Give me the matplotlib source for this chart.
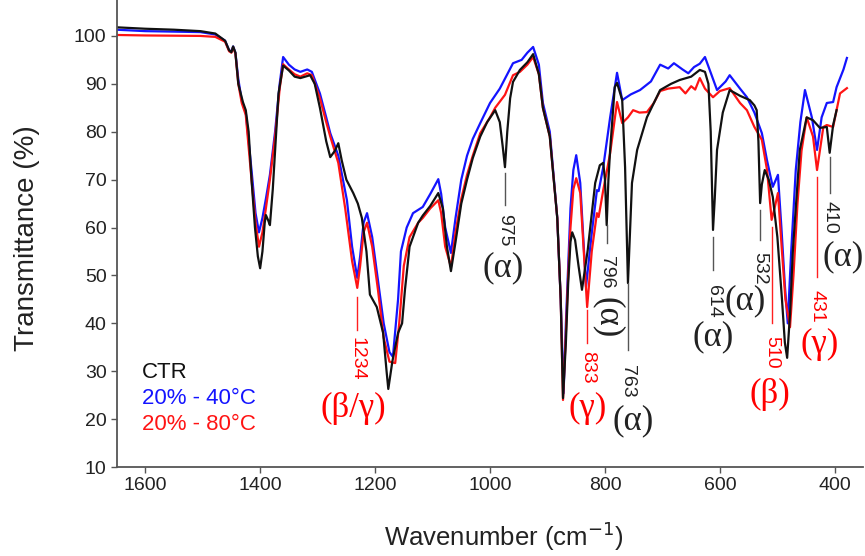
import matplotlib
matplotlib.use('Agg')
import matplotlib.pyplot as plt

plt.rcParams['font.family'] = ['Liberation Sans', 'DejaVu Sans']

# ---- spectra: (wavenumber cm-1, transmittance %) ----
ctr = [(1650, 101.8), (1600, 101.5), (1550, 101.3), (1504, 101.0), (1478, 100.5),
       (1461, 99.0), (1454, 97.0), (1450, 96.6), (1447, 97.8), (1443, 96.5),
       (1438, 90.0), (1430, 86.2), (1425, 84.5), (1420, 80.0), (1415, 70.0),
       (1409, 60.0), (1404, 54.0), (1400, 51.5), (1396, 55.0), (1392, 61.0),
       (1390, 62.6), (1386, 61.5), (1383, 60.5), (1378, 68.0), (1374, 76.0),
       (1368, 88.0), (1360, 93.8), (1350, 92.8), (1340, 91.5), (1330, 91.2),
       (1313, 91.8), (1305, 90.0), (1296, 85.0), (1285, 78.0), (1278, 74.7),
       (1270, 76.0), (1264, 77.6), (1258, 74.0), (1250, 70.0), (1238, 67.2),
       (1230, 65.0), (1223, 62.0), (1215, 55.0), (1209, 46.0), (1197, 43.4),
       (1186, 38.0), (1180, 30.0), (1177, 26.3), (1170, 32.0), (1160, 38.0),
       (1153, 40.0), (1148, 47.0), (1140, 56.0), (1125, 61.0), (1117, 62.5),
       (1104, 64.5), (1090, 67.2), (1082, 64.0), (1075, 56.0), (1068, 50.9),
       (1060, 57.0), (1050, 65.0), (1040, 70.0), (1030, 74.5), (1017, 79.0),
       (1005, 82.0), (991, 84.5), (983, 82.0), (978, 77.0), (974, 72.6),
       (970, 80.0), (965, 87.0), (960, 90.4), (948, 92.9), (935, 94.5),
       (925, 96.2), (915, 92.0), (908, 85.0), (896, 79.0), (883, 62.0),
       (877, 45.0), (873, 24.4), (868, 36.0), (864, 48.4), (860, 57.0),
       (857, 59.0), (852, 57.4), (846, 52.0), (840, 47.0), (830, 55.3),
       (817, 69.3), (809, 73.0), (803, 73.5), (800, 70.0), (797, 60.5),
       (794, 70.0), (791, 76.2), (783, 89.3), (779, 90.2), (770, 86.6),
       (765, 72.6), (760, 48.4), (753, 69.3), (744, 76.2), (727, 83.0),
       (704, 88.7), (685, 90.0), (670, 90.8), (650, 91.5), (635, 92.9),
       (626, 92.5), (620, 90.0), (616, 80.0), (612, 59.5), (609, 66.0),
       (605, 76.2), (595, 84.0), (583, 88.7), (565, 87.5), (548, 86.6),
       (540, 85.5), (536, 84.5), (533, 78.0), (530, 65.1), (527, 69.0),
       (522, 72.0), (515, 70.0), (508, 66.4), (500, 58.0), (492, 45.0),
       (487, 36.0), (483, 32.8), (478, 42.0), (473, 55.3), (461, 76.2),
       (449, 83.0), (438, 82.4), (426, 80.8), (414, 81.0), (409, 75.6),
       (403, 81.4), (397, 84.5)]

pct40 = [(1650, 101.3), (1600, 101.0), (1504, 100.8), (1478, 100.3), (1461, 99.0),
         (1454, 97.0), (1450, 96.8), (1447, 97.8), (1443, 96.5), (1438, 91.0),
         (1432, 86.5), (1425, 84.0), (1415, 72.0), (1408, 63.0), (1402, 59.0),
         (1396, 62.0), (1390, 66.0), (1383, 71.0), (1374, 80.0), (1366, 90.0),
         (1360, 95.6), (1350, 94.0), (1340, 93.0), (1330, 92.5), (1318, 93.0),
         (1310, 92.5), (1296, 88.0), (1285, 83.0), (1278, 79.7), (1264, 75.0),
         (1249, 65.7), (1240, 56.0), (1231, 49.5), (1226, 54.0), (1220, 61.0),
         (1214, 63.0), (1205, 58.0), (1195, 49.0), (1185, 40.0), (1175, 34.0),
         (1169, 33.0), (1160, 45.0), (1155, 55.0), (1145, 60.0), (1134, 63.0),
         (1117, 64.3), (1104, 67.0), (1090, 70.1), (1085, 67.0), (1078, 60.0),
         (1068, 54.7), (1060, 62.0), (1050, 70.0), (1040, 75.0), (1030, 78.5),
         (1017, 81.8), (1000, 86.0), (983, 89.0), (960, 94.3), (945, 95.0),
         (935, 96.5), (925, 97.7), (915, 94.0), (908, 86.0), (896, 80.0),
         (883, 62.0), (877, 45.0), (872, 25.4), (868, 40.0), (864, 52.0),
         (860, 64.0), (855, 72.0), (850, 75.1), (843, 69.3), (833, 47.6),
         (823, 58.8), (814, 67.8), (811, 67.6), (803, 72.6), (791, 83.0),
         (779, 92.3), (770, 86.6), (755, 87.8), (739, 88.7), (720, 90.5),
         (704, 94.0), (690, 93.2), (680, 94.3), (665, 93.0), (655, 92.2),
         (645, 93.5), (635, 94.2), (626, 95.6), (615, 92.0), (605, 88.7),
         (590, 90.5), (583, 91.8), (565, 89.0), (553, 87.2), (540, 84.0),
         (527, 79.7), (518, 74.0), (508, 68.5), (499, 71.0), (493, 60.0),
         (487, 48.0), (482, 40.0), (476, 55.0), (468, 72.0), (460, 82.0),
         (452, 88.7), (440, 83.0), (431, 76.2), (423, 83.0), (414, 86.0),
         (403, 86.2), (397, 89.3), (385, 93.0), (379, 95.4)]

pct80 = [(1650, 100.2), (1600, 100.1), (1504, 100.0), (1478, 99.8), (1461, 98.8),
         (1454, 96.8), (1450, 96.5), (1447, 97.6), (1443, 96.3), (1438, 90.0),
         (1432, 86.0), (1425, 83.5), (1415, 70.0), (1408, 61.0), (1402, 56.0),
         (1396, 59.0), (1390, 64.0), (1383, 70.0), (1374, 79.0), (1366, 89.0),
         (1360, 94.1), (1350, 93.0), (1340, 92.0), (1330, 91.5), (1318, 92.2),
         (1310, 91.8), (1296, 87.0), (1285, 82.0), (1278, 79.0), (1264, 73.5),
         (1252, 64.0), (1240, 53.0), (1231, 47.4), (1226, 52.0), (1220, 59.0),
         (1214, 61.0), (1205, 56.0), (1195, 47.0), (1185, 37.0), (1175, 32.0),
         (1165, 31.7), (1158, 40.0), (1150, 52.0), (1140, 58.0), (1125, 61.0),
         (1117, 62.0), (1104, 64.0), (1090, 65.7), (1085, 63.0), (1078, 56.0),
         (1068, 51.8), (1060, 59.0), (1050, 66.0), (1040, 71.0), (1030, 75.0),
         (1017, 79.7), (1000, 83.0), (991, 85.0), (974, 87.7), (960, 91.8),
         (948, 92.5), (935, 94.0), (925, 95.6), (915, 92.0), (908, 85.0),
         (896, 79.0), (883, 62.0), (877, 45.0), (873, 24.0), (868, 38.0),
         (864, 50.0), (860, 60.0), (855, 68.0), (850, 70.3), (843, 67.2),
         (831, 43.4), (823, 55.0), (814, 63.0), (811, 62.2), (803, 67.8),
         (791, 75.5), (779, 86.2), (770, 81.8), (760, 83.0), (751, 84.5),
         (740, 84.0), (727, 84.1), (715, 86.0), (704, 88.5), (690, 89.0),
         (670, 89.3), (660, 88.0), (650, 89.5), (643, 88.8), (635, 91.2),
         (626, 89.0), (612, 87.2), (600, 88.5), (583, 89.1), (565, 86.0),
         (553, 84.5), (540, 81.0), (527, 78.3), (518, 72.0), (510, 61.6),
         (505, 64.0), (499, 67.2), (492, 55.0), (486, 45.0), (478, 39.2),
         (472, 50.0), (465, 65.0), (458, 76.0), (449, 83.0), (438, 79.0),
         (431, 72.0), (420, 81.0), (414, 81.4), (403, 81.0), (391, 88.0),
         (379, 89.1)]

series_names = ['CTR', '20% - 40°C', '20% - 80°C']
series_colors = ['#111111', '#1414ff', '#ff1414']

# ---- peak assignments ----
peak_labels = ['1234', '975', '833', '796', '763', '614', '532', '510', '431', '410']
peak_phases = ['(β/γ)', '(α)', '(γ)', '(α)', '(α)', '(α)', '(α)', '(β)', '(γ)', '(α)']
peak_red = [True, False, True, False, False, False, False, True, True, False]

# layout: stick x, stick top/bottom, number y, phase x/y, phase rotated
layout = [
    (1231, 45.5, 38.6, 32.6, 1238, 22.3, False),
    (974, 71.4, 64.7, 59.5, 977, 51.6, False),
    (831, 42.8, 35.9, 30.9, 830, 22.3, False),
    (797, 60.5, 56.8, 50.6, 796, 41.2, True),
    (760, 48.4, 34.4, 27.8, 751, 19.6, False),
    (612, 58.0, 51.1, 44.6, 612, 37.2, False),
    (530, 63.7, 57.4, 51.4, 556, 44.6, False),
    (510, 60.1, 40.0, 34.0, 513, 25.2, False),
    (431, 70.5, 49.7, 43.6, 426, 35.6, False),
    (409, 74.7, 67.2, 62.2, 386, 53.8, False),
]

fig = plt.figure(figsize=(8.65, 5.56), dpi=100)
ax = fig.add_axes([0.1353, 0.160, 0.8624, 0.840])

order = [1, 2, 0]
data = [ctr, pct40, pct80]
for i in order:
    wn = [p[0] for p in data[i]]
    t = [p[1] for p in data[i]]
    ax.plot(wn, t, color=series_colors[i], lw=1.6, solid_joinstyle='round')

for lab, ph, red, lay in zip(peak_labels, peak_phases, peak_red, layout):
    x, top, bot, ty, gx, gy, grot = lay
    lc = '#ff2020' if red else '#555555'
    tc = '#ff0000' if red else '#222222'
    ax.plot([x, x], [top, bot], color=lc, lw=1.0)
    ax.text(x, ty, lab, rotation=270, ha='center', va='center',
            fontsize=14, color=tc)
    ax.text(gx, gy, ph, rotation=270 if grot else 0, ha='center', va='center',
            fontsize=25, color=tc, family=['Liberation Serif', 'DejaVu Serif'])

legend_y = [29.8, 24.4, 18.8]
for name, c, ly in zip(series_names, series_colors, legend_y):
    ax.text(1605, ly, name, color=c, fontsize=16, ha='left', va='center')

ax.set_xlim(1649, 351)
ax.set_ylim(10, 107.5)
ax.set_xticks([1600, 1400, 1200, 1000, 800, 600, 400])
ax.set_yticks(range(10, 101, 10))
for s in ['top', 'right']:
    ax.spines[s].set_visible(False)
for s in ['left', 'bottom']:
    ax.spines[s].set_color('#555555')
    ax.spines[s].set_linewidth(1.3)
ax.tick_params(labelsize=14, length=4, width=1.0, color='#555555', labelcolor='#222222')
ax.set_xlabel('Wavenumber (cm$^{-1}$)', fontsize=18.5, color='#222222')
ax.set_ylabel('Transmittance (%)', fontsize=20, color='#222222')
ax.xaxis.set_label_coords(0.519, -0.113)
ax.yaxis.set_label_coords(-0.103, 0.49)

fig.savefig('out.png', dpi=100)
